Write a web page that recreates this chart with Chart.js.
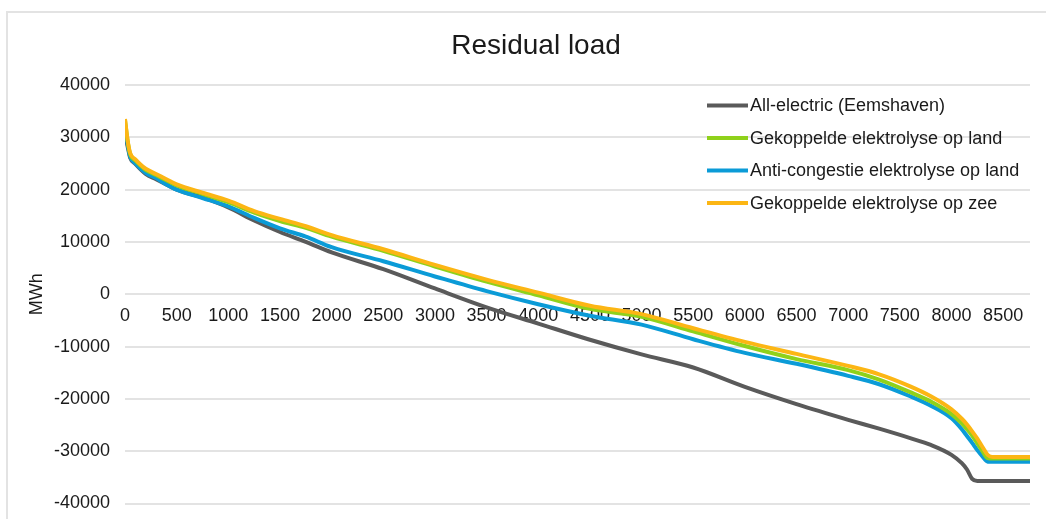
<!DOCTYPE html>
<html><head><meta charset="utf-8">
<script src="https://cdn.jsdelivr.net/npm/chart.js@4.4.1/dist/chart.umd.min.js"></script>
<style>
html,body{margin:0;padding:0;background:#fff;overflow:hidden;width:1046px;height:519px;}
#frame{position:absolute;left:6px;top:11px;width:1100px;height:600px;border:2px solid #e3e3e3;box-sizing:border-box;}
#wrap{position:absolute;left:0;top:0;width:1046px;height:519px;}
</style></head><body>
<div id="frame"></div>
<div id="wrap"><canvas id="c"></canvas></div>
<script>
const chartTitle = 'Residual load';
const yAxisTitle = 'MWh';
const seriesNames = ['All-electric (Eemshaven)', 'Gekoppelde elektrolyse op land', 'Anti-congestie elektrolyse op land', 'Gekoppelde elektrolyse op zee'];
const hours = [0, 25, 50, 100, 200, 300, 400, 500, 750, 1000, 1250, 1500, 1750, 2000, 2500, 3000, 3500, 4000, 4500, 5000, 5500, 6000, 6500, 7000, 7300, 7600, 7800, 8000, 8100, 8150, 8200, 8250, 8300, 8350, 8400, 8760];
const allElectric = [30500, 28300, 26100, 24900, 23000, 22000, 21000, 20000, 18500, 16600, 14100, 11900, 10000, 8000, 4800, 1100, -2500, -5600, -8700, -11500, -14000, -17700, -21000, -24000, -25700, -27500, -28800, -30700, -32300, -33500, -35300, -35700, -35700, -35700, -35700, -35700];
const gekoppeldeLand = [33300, 29300, 26800, 25600, 23800, 22800, 21800, 20800, 19200, 17600, 15600, 14000, 12700, 11000, 8300, 5300, 2400, -200, -2800, -4300, -7100, -9900, -12400, -14500, -16300, -18700, -20500, -22900, -24700, -25800, -27000, -28500, -30000, -31300, -31400, -31400];
const antiCongestie = [32000, 28700, 26300, 25000, 23200, 22200, 21000, 20000, 18400, 16800, 14600, 12600, 11000, 9000, 6300, 3400, 600, -1900, -4100, -5800, -8600, -11200, -13300, -15600, -17200, -19500, -21300, -23700, -25800, -27100, -28400, -29800, -31000, -32000, -32000, -32000];
const gekoppeldeZee = [33500, 29500, 27000, 25800, 24000, 23000, 22000, 21000, 19400, 17900, 15900, 14400, 13000, 11300, 8600, 5600, 2800, 300, -2200, -3800, -6500, -9100, -11400, -13700, -15300, -17600, -19500, -22000, -23800, -24900, -26200, -27600, -29200, -30700, -31100, -31100];
const xTickValues = [0, 500, 1000, 1500, 2000, 2500, 3000, 3500, 4000, 4500, 5000, 5500, 6000, 6500, 7000, 7500, 8000, 8500];
const yTickValues = [-40000, -30000, -20000, -10000, 0, 10000, 20000, 30000, 40000];

const toPoints = vals => hours.map((h, i) => ({x: h, y: vals[i]}));
const seriesValues = [allElectric, gekoppeldeLand, antiCongestie, gekoppeldeZee];
const seriesColors = ['#5a5a5a', '#8fd11b', '#0b9bd7', '#fcb614'];
const seriesOrder = [3, 1, 2, 0];

Chart.defaults.font.family = "'Liberation Sans', Arial, sans-serif";
Chart.defaults.color = '#1a1a1a';

const insideLegend = {
  id: 'insideLegend',
  afterDraw(chart, args, opts) {
    const ctx = chart.ctx;
    ctx.save();
    ctx.font = opts.font;
    ctx.textBaseline = 'middle';
    ctx.textAlign = 'left';
    chart.data.datasets.forEach((ds, i) => {
      const y = opts.y + i * opts.step;
      ctx.strokeStyle = ds.borderColor;
      ctx.lineWidth = 4;
      ctx.lineCap = 'butt';
      ctx.beginPath();
      ctx.moveTo(opts.x, y);
      ctx.lineTo(opts.x + opts.len, y);
      ctx.stroke();
      ctx.fillStyle = opts.color;
      ctx.fillText(ds.label, opts.x + opts.len + 2, y + 1);
    });
    ctx.restore();
  }
};

new Chart(document.getElementById('c'), {
  type: 'line',
  data: {
    datasets: seriesNames.map((name, i) => ({
      label: name,
      data: toPoints(seriesValues[i]),
      borderColor: seriesColors[i],
      backgroundColor: seriesColors[i],
      borderWidth: 4,
      pointRadius: 0,
      cubicInterpolationMode: 'monotone',
      fill: false,
      order: seriesOrder[i]
    }))
  },
  options: {
    responsive: true,
    maintainAspectRatio: false,
    animation: false,
    layout: {padding: {left: 42, right: 16, top: 0, bottom: 15.5}},
    plugins: {
      legend: {display: false},
      tooltip: {enabled: false},
      title: {
        display: true,
        text: chartTitle,
        color: '#1a1a1a',
        font: {size: 28, weight: 'normal'},
        padding: {top: 29.2, bottom: 22.2}
      },
      insideLegend: {x: 707, y: 105.5, step: 32.5, len: 41, font: "18px 'Liberation Sans', Arial, sans-serif", color: '#1a1a1a'}
    },
    scales: {
      x: {
        type: 'linear',
        min: 0,
        max: 8760,
        position: {y: 0},
        grid: {display: false, drawTicks: false},
        border: {display: false},
        afterBuildTicks: s => { s.ticks = xTickValues.map(v => ({value: v})); },
        ticks: {autoSkip: false, maxRotation: 0, padding: 11, font: {size: 18}, color: '#1a1a1a', callback: v => String(v)}
      },
      y: {
        type: 'linear',
        min: -40000,
        max: 40000,
        afterBuildTicks: s => { s.ticks = yTickValues.map(v => ({value: v})); },
        afterFit: s => { s.width = 83; s.paddingTop = 11; s.paddingBottom = 11; },
        grid: {color: '#e3e3e3', lineWidth: 2, drawTicks: false},
        border: {display: false},
        ticks: {padding: 15, font: {size: 18}, color: '#1a1a1a', callback: v => String(v)},
        title: {display: true, text: yAxisTitle, font: {size: 18}, color: '#1a1a1a', padding: {top: -15.3, bottom: 0}}
      }
    }
  },
  plugins: [insideLegend]
});
</script>
</body></html>
